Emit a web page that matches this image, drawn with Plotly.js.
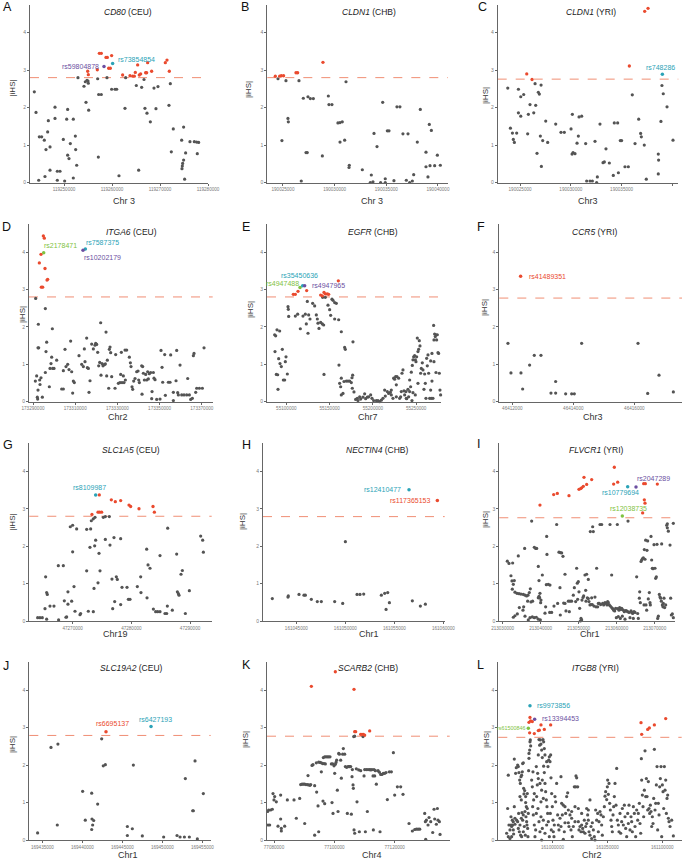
<!DOCTYPE html>
<html><head><meta charset="utf-8">
<script src="https://cdn.plot.ly/plotly-3.0.1.min.js"></script>
<style>html,body{margin:0;padding:0;background:#fff}#chart{width:683px;height:860px}</style>
</head><body><div id="chart"></div>
<script>
// ---------------- DATA ----------------
const panelLetters = ['A','B','C','D','E','F','G','H','I','J','K','L'];
const genes = ['CD80','CLDN1','CLDN1','ITGA6','EGFR','CCR5','SLC1A5','NECTIN4','FLVCR1','SLC19A2','SCARB2','ITGB8'];
const pops = ['CEU','CHB','YRI','CEU','CHB','YRI','CEU','CHB','YRI','CEU','CHB','YRI'];
const chromLabels = ['Chr 3','Chr 3','Chr3','Chr2','Chr7','Chr3','Chr19','Chr1','Chr1','Chr1','Chr4','Chr2'];
const thresholds = [2.8,2.8,2.76,2.8,2.8,2.77,2.8,2.79,2.76,2.79,2.77,2.74];
const ihsTicks = [0,1,2,3,4];
const posTicks = [
 [119250000,119260000,119270000,119280000],
 [190025000,190030000,190035000,190040000],
 [190025000,190030000,190035000,190040000],
 [173290000,173310000,173330000,173350000,173370000],
 [55100000,55150000,55200000,55250000],
 [46412000,46414000,46416000],
 [47270000,47280000,47290000],
 [161045000,161050000,161055000,161060000],
 [213030000,213040000,213050000,213060000,213070000],
 [169435000,169440000,169445000,169450000,169455000],
 [77080000,77100000,77120000],
 [160950000,161000000,161050000,161100000]
];

// A: CD80 (CEU)
const CD80_CEU_pos = [119243820,119244170,119244860,119245350,119245900,119246250,119246600,119246740,119247090,119247090,119246040,119244730,119248130,119248130,119248610,119249170,119248610,119249860,119250140,119250560,119250760,119250760,119251040,119251320,119251940,119251940,119252360,119252430,119252640,119252910,119254160,119254440,119254580,119254790,119255000,119255070,119255140,119257010,119257220,119257770,119257150,119258950,119259920,119260620,119260970,119261450,119262700,119262840,119265060,119265550,119266170,119266660,119266860,119267280,119267980,119268740,119269150,119269570,119271860,119272140,119272350,119272760,119274500,119274910,119274710,119274640,119274570,119274910,119275120,119275330,119276230,119277140,119277620,119278040,119277760];
const CD80_CEU_ihs = [2.42,1.87,1.22,1.22,1.13,0.88,1.35,1.65,0.95,0.33,0.16,0.06,2.01,1.71,0.30,0.30,0.06,1.15,0.04,1.69,1.95,0.73,0.64,1.04,1.69,0.12,1.24,0.88,0.46,2.80,2.57,2.69,2.14,2.73,2.71,2.65,1.93,2.77,2.35,2.35,0.68,2.80,2.49,2.49,2.49,0.18,1.98,2.80,2.59,0.33,2.54,2.75,1.98,1.85,1.62,2.52,1.97,2.56,2.06,2.64,0.82,1.43,1.13,1.48,0.51,0.44,0.37,0.60,0.09,0.79,1.09,1.09,1.08,1.07,0.77];
const CD80_CEU_sigPos = [119254930,119255070,119256940,119257360,119257770,119258740,119259020,119259300,119259650,119259920,119262210,119263740,119264300,119264640,119264850,119265340,119265680,119265960,119267000,119267210,119267420,119268250,119271100,119271450,119271930];
const CD80_CEU_sigIhs = [2.97,2.88,3.01,3.45,3.45,3.34,3.34,3.05,3.05,3.39,2.87,2.85,2.84,2.84,2.94,3.14,2.87,2.90,2.93,2.93,3.20,2.97,3.20,3.27,2.97];
const CD80_CEU_snps = [['rs59804878',119258330,3.10],['rs73854854',119260130,3.18]];

// B: CLDN1 (CHB)
const CLDN1_CHB_pos = [190024520,190025290,190026550,190024900,190025480,190025520,190026770,190026970,190027230,190027350,190027420,190027650,190027940,190028810,190029390,190029450,190029740,190030320,190030520,190030740,190030520,190030970,190031100,190031420,190031390,190032680,190033550,190033450,190033710,190033810,190034100,190034450,190034650,190034900,190034900,190035100,190035260,190035740,190036030,190036320,190036610,190037100,190036940,190037260,190037650,190037520,190038000,190038290,190038840,190038840,190039030,190039160,190039360,190039230,190039680,190039940,190040230];
const CLDN1_CHB_ihs = [2.77,2.72,2.72,1.12,1.71,1.62,0.04,2.25,0.80,0.80,2.29,2.24,2.24,0.71,2.31,2.08,2.08,1.59,1.60,1.62,1.08,1.13,2.69,0.46,0.40,0.34,0.20,0.00,0.02,1.31,0.96,0.00,2.14,0.10,0.00,1.38,1.38,0.05,2.02,2.02,1.30,1.30,0.06,0.00,0.21,0.04,1.08,1.95,0.81,0.42,0.15,1.55,1.39,0.45,0.45,0.73,0.46];
const CLDN1_CHB_sigPos = [190024260,190024680,190024840,190025060,190026260,190026420,190028870];
const CLDN1_CHB_sigIhs = [2.84,2.84,2.85,2.85,2.93,2.93,3.21];
const CLDN1_CHB_snps = [];

// C: CLDN1 (YRI)
const CLDN1_YRI_pos = [190023790,190024050,190024250,190024340,190024440,190024670,190024840,190024840,190025070,190025070,190025360,190025750,190025820,190025980,190026350,190026480,190026540,190026670,190026800,190026900,190027000,190027070,190027100,190027230,190027530,190027720,190028510,190029030,190029360,190030020,190030150,190030120,190030220,190030410,190030610,190030740,190030810,190031070,190031460,190031560,190031890,190032120,190032380,190032540,190032610,190032870,190033170,190033300,190033460,190033790,190034180,190034280,190034610,190034680,190034870,190035000,190035330,190035660,190036050,190036320,190036680,190036870,190036940,190037230,190037430,190038610,190038640,190038610,190038870,190038970,190039100,190039470,190040060];
const CLDN1_YRI_ihs = [2.52,1.45,1.32,1.15,1.07,1.32,1.86,2.49,1.77,2.29,2.35,1.30,1.82,2.08,1.86,2.64,2.06,0.78,2.41,2.36,1.24,2.60,0.43,1.12,1.64,1.07,1.56,1.34,1.34,1.43,1.82,0.76,0.80,0.77,1.05,1.24,1.75,1.77,1.04,0.04,0.04,0.04,1.10,0.00,0.15,1.56,0.53,0.55,0.90,0.52,0.19,1.59,1.59,0.26,1.12,1.12,0.42,0.42,2.34,1.04,1.69,1.31,1.22,1.00,0.09,0.76,0.60,0.23,1.63,2.59,2.37,2.02,1.13];
const CLDN1_YRI_sigPos = [190025660,190026180,190035760,190037270,190037600];
const CLDN1_YRI_sigIhs = [2.90,2.75,3.11,4.57,4.65];
const CLDN1_YRI_snps = [['rs748286',190039010,2.89]];

// D: ITGA6 (CEU)  [position, |iHS|]
const ITGA6_CEU_points = [[173291260,2.76],[173292530,2.07],[173292370,1.44],[173292690,1.44],[173295850,2.49],[173296160,1.34],[173296480,1.59],[173295850,0.78],[173299160,1.95],[173291110,0.55],[173291740,0.69],[173293320,0.46],[173293160,0.58],[173292370,0.31],[173292050,0.12],[173292210,0.07],[173294420,0.12],[173293790,0.64],[173297740,0.40],[173298060,0.89],[173298530,1.02],[173298850,1.19],[173299320,0.89],[173299950,0.89],[173301220,1.11],[173303590,0.34],[173304380,0.34],[173304380,0.83],[173305170,1.40],[173305640,0.94],[173306430,1.00],[173307060,0.86],[173307850,1.62],[173308330,0.80],[173309120,0.55],[173309590,0.51],[173308800,0.23],[173311800,1.23],[173313070,1.00],[173313860,0.94],[173314330,1.41],[173314650,1.07],[173315440,1.70],[173315750,0.91],[173316230,0.89],[173316540,0.25],[173317020,0.56],[173317810,1.54],[173318600,1.41],[173319390,1.51],[173319700,1.56],[173320180,1.53],[173320650,1.32],[173321130,0.96],[173321600,1.05],[173322070,2.11],[173322230,0.71],[173322710,1.02],[173323180,0.96],[173323810,0.99],[173324290,1.01],[173324600,1.86],[173324920,0.69],[173325230,1.11],[173325870,0.36],[173326180,1.40],[173326500,1.46],[173326810,1.31],[173327290,0.67],[173328870,0.36],[173329180,1.26],[173330450,0.49],[173331240,0.51],[173331550,0.73],[173331870,1.32],[173332190,0.51],[173332820,0.69],[173333130,0.51],[173333610,1.38],[173334400,1.38],[173333770,0.58],[173335660,1.19],[173336140,1.04],[173336450,0.94],[173336930,0.40],[173337240,0.33],[173337720,0.55],[173338350,0.62],[173339140,0.80],[173339770,0.82],[173340090,0.58],[173340400,0.51],[173341510,0.96],[173341670,0.20],[173341980,0.94],[173342300,0.76],[173342770,0.58],[173343400,0.73],[173343880,0.58],[173344350,0.80],[173344670,0.61],[173345140,0.75],[173345770,0.78],[173346250,0.08],[173346410,0.27],[173347040,0.78],[173347350,0.63],[173347830,0.59],[173348620,0.06],[173350670,1.37],[173351150,0.92],[173351460,0.52],[173352410,1.26],[173354150,0.52],[173355250,1.25],[173354940,0.52],[173356520,0.25],[173356520,0.03],[173357780,0.56],[173358100,1.37],[173358570,0.24],[173358890,0.18],[173360470,0.18],[173361570,0.18],[173362840,0.18],[173363310,0.62],[173364100,0.18],[173364730,0.06],[173365520,0.09],[173366000,1.23],[173366310,1.29],[173367100,0.25],[173367580,0.36],[173368840,0.36],[173370260,0.36],[173371050,1.44],[173352730,0.17],[173350200,0.07],[173359680,0.98]];
const ITGA6_CEU_sig = [[173294900,4.43],[173295370,4.37],[173293790,3.94],[173293000,3.71],[173295690,3.56],[173296950,3.27],[173296640,3.25],[173293950,3.06],[173294580,3.06]];
const ITGA6_CEU_snps = [['rs2178471',173295060,3.98],['rs7587375',173314810,4.08],['rs10202179',173313700,4.05]];

// E: EGFR (CHB)
const EGFR_CHB_points = [[55086530,1.79],[55087680,1.76],[55089220,1.92],[55092300,1.89],[55086910,1.34],[55088450,0.73],[55089990,0.72],[55090380,0.33],[55091150,1.15],[55092690,1.02],[55094230,0.94],[55095380,1.40],[55096540,0.58],[55098080,0.58],[55098850,1.07],[55099620,1.20],[55101160,0.74],[55101930,2.54],[55102310,2.47],[55102700,2.28],[55110400,2.29],[55113090,2.34],[55116170,1.95],[55119250,2.29],[55121950,2.34],[55123100,2.08],[55125030,1.83],[55124260,2.68],[55125800,2.32],[55127340,2.21],[55130420,2.63],[55132730,2.56],[55134650,2.32],[55135810,2.21],[55136580,2.10],[55137730,1.96],[55139660,2.12],[55141580,2.08],[55143120,2.05],[55143510,0.73],[55141970,2.79],[55145050,2.79],[55148130,2.58],[55150050,2.46],[55151210,2.31],[55152750,2.74],[55153900,2.71],[55155830,2.65],[55157750,2.63],[55155830,2.21],[55160450,2.19],[55163530,1.87],[55160830,0.98],[55163530,0.63],[55161600,0.49],[55162760,0.40],[55163530,0.18],[55165450,0.22],[55167380,1.45],[55168150,1.40],[55166610,0.54],[55169300,0.55],[55171230,0.55],[55173150,0.55],[55175080,0.51],[55175850,0.64],[55176620,0.71],[55177000,1.60],[55176230,0.36],[55178160,0.26],[55180080,0.06],[55182010,0.09],[55182780,0.03],[55184700,0.13],[55185860,0.07],[55188550,0.12],[55190480,0.21],[55191630,0.08],[55193560,0.12],[55195100,0.13],[55197410,0.18],[55198950,0.09],[55200870,0.03],[55203950,0.03],[55205880,0.03],[55207800,0.00],[55209730,0.04],[55211650,0.09],[55213580,0.31],[55214350,0.15],[55216660,0.27],[55218200,0.22],[55220120,0.25],[55221280,0.18],[55223200,0.09],[55223970,0.63],[55225130,0.60],[55226280,0.67],[55227820,0.67],[55227050,0.45],[55229750,0.63],[55230900,0.09],[55232060,0.13],[55232830,0.27],[55233600,0.76],[55234750,0.85],[55235910,0.29],[55236680,0.18],[55238220,0.27],[55238990,0.08],[55240530,0.33],[55241300,0.13],[55242450,0.58],[55243610,0.40],[55244380,0.79],[55245150,0.03],[55245530,0.97],[55246300,1.12],[55247070,1.20],[55248230,1.23],[55249000,1.12],[55249770,1.07],[55250540,1.20],[55251310,1.70],[55252080,1.34],[55252850,1.40],[55253620,1.63],[55254390,1.49],[55255160,0.76],[55255930,0.89],[55257080,1.04],[55257850,0.85],[55259010,0.33],[55259780,0.74],[55260550,0.49],[55261320,0.09],[55262090,1.16],[55262860,0.96],[55263630,1.25],[55264400,0.76],[55265550,0.09],[55266710,1.09],[55267480,0.09],[55268250,1.29],[55269400,0.09],[55270170,2.04],[55270560,1.65],[55271330,1.81],[55272100,1.74],[55272870,1.79],[55273640,1.65],[55274410,1.79],[55275180,1.31],[55275950,1.29],[55276720,0.76],[55277490,0.31],[55278260,0.18],[55266710,0.31],[55268250,0.55],[55270560,1.07],[55272870,0.78],[55252080,0.49],[55249000,0.18],[55246300,0.24],[55242450,0.27],[55238600,0.09],[55227050,0.13],[55221280,0.31]];
const EGFR_CHB_sig = [[55108090,2.87],[55110400,2.87],[55113480,2.95],[55123490,2.97],[55139660,2.85],[55141580,2.83],[55143510,2.92],[55145050,2.88],[55147360,2.88],[55148900,2.87],[55160060,3.23]];
const EGFR_CHB_snps = [['rs4947488',55115790,3.05],['rs35450636',55118870,3.10],['rs4947965',55121180,3.10]];

// F: CCR5 (YRI)
const CCR5_YRI_points = [[46411858,1.56],[46411956,0.77],[46412284,0.77],[46412339,0.34],[46412568,0.98],[46412721,1.24],[46412940,1.24],[46413268,0.23],[46413421,0.23],[46413421,0.54],[46413749,0.21],[46413946,0.21],[46414033,0.21],[46414273,1.56],[46416121,1.56],[46416438,0.22],[46416809,0.71],[46417279,0.26]];
const CCR5_YRI_sig = [];
const CCR5_YRI_snps = [['rs41489351',46412273,3.35]];

// G: SLC1A5 (CEU)
const SLC1A5_CEU_points = [[47264040,0.09],[47264430,0.09],[47264830,0.09],[47265290,0.33],[47265400,1.18],[47265570,0.76],[47265680,0.71],[47265570,0.05],[47266140,0.40],[47266820,0.40],[47267560,1.48],[47268410,1.48],[47267610,0.03],[47268580,0.54],[47268860,0.10],[47268980,0.11],[47269200,0.78],[47269200,0.45],[47269600,2.52],[47269830,0.53],[47270000,1.85],[47270000,2.56],[47270230,0.92],[47270400,0.26],[47270680,2.46],[47271250,0.17],[47271360,0.20],[47272390,1.34],[47272390,2.45],[47272670,0.26],[47272950,1.97],[47273070,2.46],[47273180,2.68],[47273520,2.73],[47273640,0.87],[47273750,2.01],[47273810,2.77],[47273920,2.16],[47273520,0.25],[47274320,1.02],[47274490,1.81],[47274660,1.34],[47275230,2.77],[47275570,2.18],[47275570,2.79],[47276250,2.79],[47276360,2.03],[47276700,1.12],[47276820,0.33],[47277040,2.23],[47277160,0.52],[47277440,1.18],[47277610,1.11],[47278180,2.20],[47278180,0.44],[47278410,0.90],[47279260,0.90],[47279490,0.58],[47279770,0.58],[47281020,0.92],[47281590,1.18],[47281640,0.76],[47282610,1.92],[47282670,0.62],[47282840,1.50],[47283180,1.41],[47283750,0.32],[47284140,0.25],[47284480,0.25],[47284880,0.25],[47284880,1.75],[47285730,0.20],[47286020,0.20],[47286130,0.40],[47286190,2.48],[47286980,0.29],[47287720,1.79],[47287840,0.78],[47288010,0.73],[47288120,0.69],[47288460,1.25],[47288690,1.35],[47289200,0.20],[47289880,0.81],[47291810,2.27],[47292150,2.16],[47292270,1.84]];
const SLC1A5_CEU_sig = [[47273290,2.85],[47274540,3.37],[47274320,2.91],[47274600,2.91],[47274940,2.91],[47276590,3.24],[47277270,3.19],[47278180,3.22],[47279600,3.10],[47279880,3.06],[47281300,3.00],[47283690,3.06],[47283920,2.91]];
const SLC1A5_CEU_snps = [['rs8109987',47273920,3.37]];

// H: NECTIN4 (CHB)
const NECTIN4_CHB_points = [[161042550,0.60],[161044150,0.64],[161044180,0.67],[161045270,0.71],[161045780,0.69],[161045920,0.69],[161046530,0.58],[161047140,0.52],[161047550,0.52],[161048910,0.52],[161049730,0.47],[161050000,2.12],[161051190,0.71],[161051490,0.71],[161051870,0.72],[161053670,0.69],[161054010,0.74],[161054320,0.76],[161054150,0.31],[161054490,0.49],[161056830,0.54],[161057650,0.40],[161058160,0.45]];
const NECTIN4_CHB_sig = [];
const NECTIN4_CHB_snps = [['rs12410477',161056490,3.51],['rs117365153',161059380,3.22]];

// I: FLVCR1 (YRI)
const FLVCR1_YRI_points = [[213031230,1.60],[213031670,1.54],[213032630,1.55],[213032190,1.21],[213032460,1.07],[213032810,0.98],[213033070,1.08],[213032540,0.85],[213033240,0.77],[213033770,0.74],[213034300,0.73],[213034820,0.72],[213035440,0.71],[213035880,0.69],[213036310,0.67],[213036670,0.69],[213037020,0.76],[213037280,0.86],[213034120,1.74],[213035790,1.94],[213037630,2.67],[213032810,0.10],[213033240,0.14],[213033860,0.19],[213034390,0.36],[213035530,0.38],[213035350,0.29],[213035880,0.13],[213036750,0.03],[213037190,0.09],[213037810,0.11],[213038330,0.09],[213038860,0.10],[213039380,0.05],[213039910,0.03],[213037890,0.53],[213037450,0.51],[213036580,0.53],[213038330,1.97],[213038680,1.94],[213038950,1.94],[213039380,1.46],[213039560,1.08],[213039380,0.62],[213039560,0.66],[213039730,0.62],[213039820,0.74],[213040090,0.56],[213040000,0.49],[213040440,1.23],[213041140,0.21],[213041310,0.38],[213041490,0.97],[213041660,1.78],[213041580,2.26],[213042010,0.98],[213042450,0.96],[213042370,0.23],[213042890,0.23],[213043510,0.40],[213044210,2.58],[213044470,0.47],[213044820,1.84],[213045170,1.83],[213045080,0.89],[213045170,0.16],[213045520,1.82],[213045870,1.73],[213046050,0.48],[213046400,0.47],[213046400,1.25],[213046660,0.27],[213047280,0.53],[213047540,0.25],[213047720,0.53],[213048150,0.53],[213048590,0.69],[213048860,0.89],[213049210,0.52],[213049470,1.41],[213049640,1.01],[213049730,0.58],[213049910,1.05],[213050080,0.78],[213050260,0.34],[213050430,0.00],[213050610,0.07],[213050790,0.03],[213050870,0.56],[213051140,0.63],[213051310,0.67],[213051660,1.23],[213051840,0.82],[213051930,0.53],[213052100,1.25],[213052280,0.62],[213052540,0.60],[213052540,1.11],[213052710,0.52],[213052980,0.43],[213053070,2.39],[213053240,0.44],[213053420,0.62],[213053590,0.44],[213053680,2.52],[213053850,2.39],[213054030,0.40],[213054290,0.64],[213054560,0.38],[213054730,1.41],[213055000,0.38],[213055170,0.47],[213055430,0.47],[213055610,2.58],[213055780,0.44],[213056050,2.58],[213056310,0.47],[213056570,0.43],[213056920,0.49],[213057190,0.47],[213057450,0.43],[213057630,0.52],[213057800,0.49],[213058060,0.43],[213058240,2.58],[213058330,0.40],[213058680,1.23],[213058680,0.36],[213058940,0.33],[213059200,0.29],[213059470,0.27],[213059730,0.34],[213059910,0.09],[213060170,2.58],[213060260,0.33],[213060430,0.12],[213060610,0.29],[213060780,0.36],[213060960,0.07],[213061130,0.31],[213061310,0.34],[213061480,0.13],[213061750,0.29],[213062010,0.25],[213062190,0.05],[213062360,0.28],[213062620,0.27],[213062890,0.25],[213062980,2.67],[213063240,0.23],[213063500,0.09],[213063770,0.27],[213063940,0.23],[213064200,0.20],[213064380,0.07],[213064550,0.25],[213064820,0.23],[213065260,1.18],[213065520,0.20],[213065690,0.07],[213065960,0.61],[213066050,0.78],[213066220,0.49],[213066400,1.59],[213066570,1.63],[213066750,1.66],[213067010,1.69],[213067190,0.43],[213067270,1.91],[213067450,1.65],[213067620,2.16],[213067710,0.43],[213067890,0.29],[213067970,1.89],[213068150,2.14],[213068320,0.59],[213068590,0.76],[213068760,0.49],[213068850,0.43],[213069030,2.26],[213069200,1.63],[213069380,1.41],[213069550,1.40],[213069820,2.04],[213070080,1.41],[213070250,1.14],[213070430,1.18],[213070610,2.05],[213070780,0.07],[213070960,0.13],[213071220,0.71],[213071390,0.64],[213071570,0.61],[213071750,0.53],[213071830,2.06],[213072010,0.43],[213072180,0.38],[213072270,0.47],[213072450,0.61],[213072620,0.36],[213072890,0.43],[213073150,2.56],[213073320,2.49],[213073320,2.60],[213073590,2.40],[213074030,2.03],[213074200,0.61],[213074380,0.16],[213074640,0.19],[213074900,2.61],[213074900,0.09]];
const FLVCR1_YRI_sig = [[213039820,3.10],[213043420,3.38],[213044380,3.41],[213047450,3.35],[213050080,3.52],[213050520,3.54],[213050790,3.56],[213051220,3.60],[213051400,3.84],[213052100,3.65],[213053420,3.78],[213059380,4.11],[213059200,3.66],[213060260,3.71],[213067100,3.67],[213067540,3.67],[213067270,3.24],[213067450,3.15],[213070690,3.66],[213066830,2.89]];
const FLVCR1_YRI_snps = [['rs10779694',213062890,3.59],['rs2047289',213065080,3.58],['rs12038735',213061480,2.81]];

// J: SLC19A2 (CEU)
const SLC19A2_CEU_points = [[169434400,0.19],[169436070,2.47],[169436860,0.40],[169436940,2.56],[169440030,1.30],[169440360,0.53],[169441160,1.25],[169441200,0.56],[169441280,0.40],[169441410,0.52],[169441160,0.28],[169441910,0.96],[169442410,2.70],[169442610,1.98],[169442870,2.01],[169445620,0.36],[169445620,0.12],[169446240,0.30],[169446370,2.00],[169447490,0.11],[169450160,0.08],[169451830,0.12],[169452210,0.08],[169452750,0.08],[169453370,0.08],[169452870,1.64],[169453790,0.78],[169453870,0.78],[169454080,2.11],[169454370,0.03],[169455120,1.24]];
const SLC19A2_CEU_sig = [];
const SLC19A2_CEU_snps = [['rs6695137',169442950,2.89],['rs6427193',169448580,3.03]];

// K: SCARB2 (CHB)
const SCARB2_CHB_points = [[77077900,0.76],[77078010,0.40],[77078560,0.40],[77078230,0.80],[77078900,0.80],[77079450,0.82],[77079670,1.24],[77080000,1.07],[77080220,1.16],[77080770,1.02],[77081330,0.37],[77082210,0.56],[77082430,0.31],[77082430,0.24],[77082210,1.20],[77083540,0.37],[77084420,1.07],[77086630,1.07],[77087400,0.58],[77088510,1.11],[77088840,1.48],[77089280,1.49],[77089720,1.49],[77090170,1.49],[77090610,1.48],[77091050,1.48],[77091490,1.47],[77091930,1.46],[77090170,0.44],[77091270,1.72],[77092160,1.48],[77092600,1.99],[77092930,2.01],[77093480,0.13],[77093480,1.45],[77094140,1.28],[77094590,0.91],[77094030,2.06],[77094810,2.08],[77095250,2.07],[77095690,2.06],[77096130,2.04],[77096580,2.04],[77097020,2.03],[77094810,0.22],[77095690,1.82],[77096240,1.04],[77096800,0.97],[77096350,2.20],[77096800,2.22],[77097240,2.22],[77097680,2.22],[77098120,2.22],[77098560,2.22],[77099010,2.03],[77099450,2.03],[77099890,1.98],[77099230,1.00],[77099560,0.71],[77100110,1.78],[77100330,2.02],[77100550,2.07],[77100770,2.13],[77101000,1.33],[77101220,0.76],[77101440,2.31],[77101660,2.29],[77102100,2.13],[77102320,1.65],[77102760,2.29],[77102980,2.44],[77103430,2.29],[77103650,1.96],[77104090,1.94],[77104310,0.71],[77104530,1.96],[77104860,1.96],[77105080,1.96],[77105420,1.96],[77105640,0.69],[77105860,1.69],[77105970,1.88],[77106190,1.47],[77106300,1.38],[77106410,2.76],[77106740,2.77],[77106520,0.27],[77106740,0.18],[77107290,1.90],[77107510,1.02],[77108070,1.87],[77108290,0.22],[77108730,1.85],[77109500,2.76],[77109840,1.71],[77110060,1.88],[77110280,0.22],[77110610,1.88],[77110940,0.76],[77111160,1.88],[77111710,1.88],[77112050,1.87],[77112490,1.88],[77112820,1.71],[77112930,0.27],[77113150,1.88],[77113370,1.71],[77113590,1.85],[77113920,1.49],[77114480,1.85],[77114920,1.81],[77115140,0.22],[77115360,1.75],[77115800,1.75],[77116240,1.78],[77116690,1.78],[77117130,1.80],[77117570,1.08],[77118230,1.82],[77118900,1.82],[77119560,2.33],[77120000,1.20],[77120890,1.42],[77121990,1.42],[77122760,1.22],[77124750,0.44],[77125860,0.24],[77126630,0.28],[77127180,0.29],[77127740,0.29],[77128290,0.29],[77129950,0.71],[77130170,0.49],[77130280,0.02],[77130500,0.53],[77131050,0.40],[77131380,0.60],[77131940,0.49],[77132600,0.20],[77133040,0.82],[77133260,0.56],[77133810,0.42],[77134150,0.84],[77134370,0.53],[77134810,0.49],[77135030,0.15]];
const SCARB2_CHB_sig = [[77092380,4.10],[77100330,4.49],[77106520,4.02],[77106740,2.89],[77107070,2.89],[77108730,2.82],[77109170,2.82],[77109610,2.82],[77110060,2.80],[77111710,2.91]];
const SCARB2_CHB_snps = [];

// L: ITGB8 (YRI)
const ITGB8_YRI_points = [[160959110,0.84],[160959720,1.73],[160958200,0.18],[160959720,0.09],[160961240,0.27],[160962150,0.40],[160962760,0.36],[160963670,0.40],[160964280,0.49],[160965190,2.16],[160965800,0.42],[160966410,1.78],[160967010,1.93],[160961240,0.04],[160962760,0.09],[160964580,0.16],[160965800,0.58],[160967320,0.53],[160963370,0.53],[160962150,0.62],[160960330,0.40],[160965190,0.89],[160964280,0.27],
[160968230,2.00],[160968840,1.96],[160969440,1.80],[160970050,1.60],[160970660,1.51],[160971270,1.69],[160971870,1.73],[160972480,1.82],[160972790,2.04],[160973390,2.06],[160973700,1.38],[160974000,1.23],[160974610,1.32],[160974910,0.76],[160975520,1.00],[160976130,0.89],[160976430,0.49],[160976730,0.40],[160977340,0.31],[160977650,0.09],[160977950,0.71],[160978250,1.85],[160978560,2.18],[160978560,2.31],[160979160,2.40],[160979470,2.62],[160979770,2.67],[160980080,2.51],[160968230,0.49],[160968840,0.31],[160969750,0.22],[160970350,0.40],[160970960,0.13],[160971570,0.58],[160971870,0.09],[160972790,0.53],[160973390,0.22],[160974300,0.36],[160975220,0.13],[160975820,0.62],[160977040,1.24],[160977040,0.84],[160975520,1.16],[160970350,1.16],[160971570,1.07],[160972180,0.73],[160973390,0.67],[160969140,0.71],
[160980990,1.60],[160981600,1.42],[160981900,0.89],[160982510,0.67],[160982810,1.07],[160983420,0.40],[160984030,0.09],[160984630,0.27],[160985240,0.71],[160985550,1.16],[160986150,1.47],[160986460,1.78],[160987060,2.27],[160987670,2.68],[160988280,2.53],[160988890,2.67],[160989490,2.56],[160990100,2.40],[160990710,2.20],[160991320,2.68],[160991920,2.62],[160992530,2.44],[160993140,2.27],[160991920,1.97],[160992530,1.80],[160993140,1.51],[160993750,1.29],[160994360,1.07],[160994660,2.09],[160994960,0.89],[160995570,0.71],[160995870,1.96],[160996480,2.13],[160997090,2.22],[160997700,2.09],[160998300,2.27],[160998610,1.66],[160999220,1.24],[160999820,0.89],[161000430,0.53],[161000740,0.22],[161001340,0.09],[161001650,0.40],[160986760,0.84],[160987670,0.49],[160988580,0.22],[160989490,0.62],[160990100,0.00],[160990710,0.31],[160991620,0.53],[160993140,0.18],[160994660,0.40],[160996180,0.49],[160997090,0.09],[160998000,0.71],[160998910,0.27],[160987060,1.64],[160988580,1.51],[160990100,1.33],[160990710,1.60],[160991620,1.11],[160989490,1.02],[160985240,1.96],[160983420,1.24],[160982200,1.82],
[161002250,1.16],[161002860,1.02],[161003770,1.51],[161004680,0.67],[161005290,0.40],[161005900,0.27],[161006810,0.58],[161007720,0.36],[161008330,0.98],[161008940,0.67],[161009850,0.02],[161010760,0.22],[161011370,0.46],[161011980,0.71],[161012890,1.16],[161013800,1.26],[161014410,0.46],[161015010,0.36],[161015930,0.67],[161016840,0.27],[161017440,0.58],[161018050,0.09],[161018960,0.36],[161019870,1.42],[161020480,0.49],[161021090,1.42],[161021390,1.71],[161022000,1.66],[161022910,1.42],[161023520,0.49],[161024130,0.27],[161025040,0.36],[161025950,0.22],[161026560,0.40],[161027470,0.31],[161028080,0.22],[161028990,0.53],[161029600,0.18],[161030200,0.36],[161031120,0.84],[161032030,0.67],[161032630,0.53],[161033240,0.22],[161034150,0.13],[161035060,0.36],[161035670,0.04],[161036280,0.46],[161037190,0.27],[161038100,0.09],[161038710,0.00],[161007720,1.69],[161009850,0.93],[161011370,0.89],[161014410,0.80],[161017440,0.76],[161020480,0.89],[161023520,0.84],[161026560,0.71],[161031120,0.44],[161032630,0.80],[161034150,1.07],
[161039320,0.80],[161040230,0.53],[161041140,0.71],[161041750,0.22],[161042360,0.49],[161043270,0.76],[161044180,0.67],[161044790,0.40],[161045390,0.13],[161046310,0.62],[161047220,0.89],[161047820,1.17],[161048430,1.29],[161049340,1.08],[161049950,1.42],[161050250,1.60],[161050860,1.22],[161051470,1.51],[161052080,0.98],[161052680,0.80],[161053290,0.53],[161053900,0.36],[161054510,0.22],[161055120,0.67],[161055720,0.89],[161056330,1.16],[161056940,1.51],[161057850,0.93],[161058460,1.91],[161059060,0.53],[161059980,0.40],[161060580,0.22],[161061500,0.71],[161062100,0.18],[161063010,0.49],[161063620,0.84],[161064530,0.40],[161065440,0.93],[161066050,0.62],[161066660,0.31],[161067570,0.09],[161068480,0.71],[161069090,0.44],[161069700,0.93],[161070610,0.27],[161071520,0.62],[161072130,0.49],[161072740,0.22],[161073650,0.89],[161074560,0.71],[161075170,0.36],
[161075770,0.09],[161076690,0.80],[161077600,0.53],[161078200,0.71],[161079120,0.98],[161079720,0.44],[161080330,0.18],[161080940,2.17],[161081240,1.60],[161081850,1.20],[161082460,0.89],[161083060,0.62],[161083670,1.33],[161084280,2.38],[161084890,1.16],[161085500,1.64],[161086100,1.16],[161086710,0.80],[161087320,1.56],[161087930,0.84],[161088530,0.71],[161089140,0.93],[161089750,0.76],[161090360,0.36],[161090960,0.62],[161091570,0.44],[161092180,1.11],[161092790,2.42],[161093390,0.80],[161094000,0.98],[161094610,1.47],[161095220,1.96],[161095820,0.27],[161096430,0.98],[161097040,0.67],[161097650,1.42],[161098250,1.64],[161098860,1.96],[161099470,0.09],[161100080,1.47],[161100690,1.29],[161101290,0.84],[161101900,1.96],[161102510,1.33],[161103120,1.60],[161103720,0.71],[161104330,1.11],[161104940,1.20],[161105550,0.58],[161106150,0.49],[161107070,0.36],[161108580,0.53],[161110100,0.11]];
const ITGB8_YRI_sig = [[160979470,3.27],[160980080,3.18],[160978560,3.14],[160981600,3.16],[160979160,2.86],[160983420,2.84],[160987060,2.92],[160987980,2.93],[160989490,3.07],[160992530,2.95],[160998300,3.07],[161080630,3.13],[161081240,2.82],[161086710,2.95],[161088230,2.99],[161092790,3.07],[161103120,3.24]];
const ITGB8_YRI_snps = [['rs9973856',160979470,3.58],['rs13394453',160983720,3.22],['rs61500846',160977950,2.98]];

// ---------------- ASSEMBLY ----------------
const zipPairs = (p, v) => p.map((x, i) => [x, v[i]]);
const panelPoints = [
 [zipPairs(CD80_CEU_pos, CD80_CEU_ihs), zipPairs(CD80_CEU_sigPos, CD80_CEU_sigIhs), CD80_CEU_snps],
 [zipPairs(CLDN1_CHB_pos, CLDN1_CHB_ihs), zipPairs(CLDN1_CHB_sigPos, CLDN1_CHB_sigIhs), CLDN1_CHB_snps],
 [zipPairs(CLDN1_YRI_pos, CLDN1_YRI_ihs), zipPairs(CLDN1_YRI_sigPos, CLDN1_YRI_sigIhs), CLDN1_YRI_snps],
 [ITGA6_CEU_points, ITGA6_CEU_sig, ITGA6_CEU_snps],
 [EGFR_CHB_points, EGFR_CHB_sig, EGFR_CHB_snps],
 [CCR5_YRI_points, CCR5_YRI_sig, CCR5_YRI_snps],
 [SLC1A5_CEU_points, SLC1A5_CEU_sig, SLC1A5_CEU_snps],
 [NECTIN4_CHB_points, NECTIN4_CHB_sig, NECTIN4_CHB_snps],
 [FLVCR1_YRI_points, FLVCR1_YRI_sig, FLVCR1_YRI_snps],
 [SLC19A2_CEU_points, SLC19A2_CEU_sig, SLC19A2_CEU_snps],
 [SCARB2_CHB_points, SCARB2_CHB_sig, SCARB2_CHB_snps],
 [ITGB8_YRI_points, ITGB8_YRI_sig, ITGB8_YRI_snps]
];

// ---------------- STYLE / POSITIONS (pixels) ----------------
const COL = {gray:'#545454', red:'#ea4a2e', cyan:'#2ba3b7', purple:'#6c4fa1', green:'#7fc241', axis:'#666666', tick:'#7a7a7a', thr:'#f08e74'};
const W = 683, H = 860;
// snp label style: [colour, xanchor, xshift, yshift, fontSize]
const style = [
 {box:[30,208.3,4.6,182.5], xr:[119242920,119280050], letter:[7,7], title:[127.5,11.7], xt:[124,200.7], yt:[11.5,88], snp:[['purple','right',-3,0,7],['cyan','left',3,4,7]]},
 {box:[267.3,448,4.6,182.5], xr:[190023484,190040970], letter:[244.7,7], title:[368.5,11.7], xt:[372,200.7], yt:[249,90], snp:[]},
 {box:[497.7,678.3,4.6,182.5], xr:[190022800,190040580], letter:[482.5,7], title:[591,11.7], xt:[588,200.7], yt:[485,96], snp:[['cyan','center',-2,7,7]]},
 {box:[29,212.7,224,401.7], xr:[173288100,173375160], letter:[6.7,226.7], title:[131.7,231.7], xt:[118,417.3], yt:[22,315], snp:[['green','left',-2,7,7],['cyan','left',-1,7,7],['purple','left',-1,-7,7]]},
 {box:[267,441.3,224,401.7], xr:[55077670,55279030], letter:[246.3,226.7], title:[372.5,231.7], xt:[368,417.3], yt:[250,310], snp:[['green','right',1,4,7],['cyan','center',-3,10,7],['purple','left',5,0,7]]},
 {box:[499.3,682,224,401.7], xr:[46411574,46417563], letter:[480.8,226.7], title:[595,231.7], xt:[593,417.3], yt:[485,308], snp:[['red','left',6,0,7]]},
 {box:[29.3,211.7,443.3,621], xr:[47262616,47293686], letter:[7.5,445], title:[130.5,450], xt:[115,634], yt:[11.5,522], snp:[['cyan','center',-6,7,7]]},
 {box:[263,444.7,443.3,621], xr:[161041600,161060130], letter:[246.3,445], title:[377,450], xt:[369,634], yt:[242,522], snp:[['cyan','right',-6,0,7],['red','right',-5,0,7]]},
 {box:[499.3,675,443.3,621], xr:[213029120,213075340], letter:[478.3,444], title:[595.5,450], xt:[590,634], yt:[485,520], snp:[['cyan','center',-7,-6,7],['purple','left',-1,9,7],['green','center',6,7,7]]},
 {box:[29.3,210.7,662,840], xr:[169433360,169456040], letter:[5.5,665.8], title:[131.7,668.3], xt:[128,855], yt:[12,745], snp:[['red','center',6,8,7],['cyan','center',4,7,7]]},
 {box:[267,449.7,662,840], xr:[77077680,77138230], letter:[246.7,665], title:[368,668.3], xt:[372,855], yt:[245,740], snp:[]},
 {box:[498.3,681.7,662,840], xr:[160950610,161117700], letter:[480.8,665], title:[595,668.3], xt:[592,855], yt:[486,740], snp:[['cyan','left',5,0,7],['purple','left',5,1,7],['green','right',-1,0,5.4]]}
];
const FONT = 'Liberation Sans, Arial, Helvetica, sans-serif';
const px = x => x / W, py = y => 1 - y / H;

const traces = [], annotations = [], shapes = [];
const layout = {width:W, height:H, margin:{l:0,r:0,t:0,b:0}, paper_bgcolor:'#fff', plot_bgcolor:'#fff', showlegend:false, font:{family:FONT}};

style.forEach((s, i) => {
  const n = i + 1, sx = n === 1 ? '' : String(n);
  const [gray, sig, snps] = panelPoints[i];
  layout['xaxis' + sx] = {domain:[px(s.box[0]), px(s.box[1])], range:s.xr, anchor:'y' + sx, showgrid:false, zeroline:false,
    showline:true, linecolor:COL.axis, linewidth:1, ticks:'outside', ticklen:2, tickwidth:1, tickcolor:COL.axis,
    tickmode:'array', tickvals:posTicks[i], ticktext:posTicks[i].map(String), tickfont:{size:4.6, color:COL.tick, family:FONT}, fixedrange:true};
  layout['yaxis' + sx] = {domain:[py(s.box[3]), py(s.box[2])], range:[0, 4.75], anchor:'x' + sx, showgrid:false, zeroline:false,
    showline:true, linecolor:COL.axis, linewidth:1, ticks:'outside', ticklen:2, tickwidth:1, tickcolor:COL.axis,
    tickmode:'array', tickvals:ihsTicks, tickfont:{size:5, color:COL.tick, family:FONT}, fixedrange:true};
  shapes.push({type:'line', xref:'x' + sx + ' domain', yref:'y' + sx, x0:0, x1:1, y0:thresholds[i], y1:thresholds[i],
    line:{color:COL.thr, width:1, dash:'dash'}, layer:'below'});
  traces.push({type:'scatter', mode:'markers', x:gray.map(p => p[0]), y:gray.map(p => p[1]), xaxis:'x' + sx, yaxis:'y' + sx,
    marker:{size:3.2, color:COL.gray}, hoverinfo:'skip', cliponaxis:false});
  if (sig.length) traces.push({type:'scatter', mode:'markers', x:sig.map(p => p[0]), y:sig.map(p => p[1]), xaxis:'x' + sx, yaxis:'y' + sx,
    marker:{size:3.3, color:COL.red}, hoverinfo:'skip', cliponaxis:false});
  snps.forEach((snp, k) => {
    const [c, anchor, dx, dy, fs] = s.snp[k];
    traces.push({type:'scatter', mode:'markers', x:[snp[1]], y:[snp[2]], xaxis:'x' + sx, yaxis:'y' + sx,
      marker:{size:3.5, color:COL[c]}, hoverinfo:'skip', cliponaxis:false});
    annotations.push({xref:'x' + sx, yref:'y' + sx, x:snp[1], y:snp[2], text:snp[0], showarrow:false,
      xanchor:anchor, yanchor:'middle', xshift:dx, yshift:dy, font:{size:fs, color:COL[c], family:FONT}});
  });
  annotations.push({xref:'paper', yref:'paper', x:px(s.letter[0]), y:py(s.letter[1]), text:panelLetters[i], showarrow:false,
    xanchor:'center', yanchor:'middle', font:{size:12.5, color:'#111', family:FONT}});
  annotations.push({xref:'paper', yref:'paper', x:px(s.title[0]), y:py(s.title[1]), text:'<i>' + genes[i] + '</i> (' + pops[i] + ')', showarrow:false,
    xanchor:'center', yanchor:'middle', font:{size:8.5, color:'#222', family:FONT}});
  annotations.push({xref:'paper', yref:'paper', x:px(s.xt[0]), y:py(s.xt[1]), text:chromLabels[i], showarrow:false,
    xanchor:'center', yanchor:'middle', font:{size:9, color:'#333', family:FONT}});
  annotations.push({xref:'paper', yref:'paper', x:px(s.yt[0]), y:py(s.yt[1]), text:'|iHS|', showarrow:false, textangle:-90,
    xanchor:'center', yanchor:'middle', font:{size:8, color:'#333', family:FONT}});
});
layout.annotations = annotations;
layout.shapes = shapes;
Plotly.newPlot('chart', traces, layout, {staticPlot:true, displayModeBar:false});
</script>
</body></html>
